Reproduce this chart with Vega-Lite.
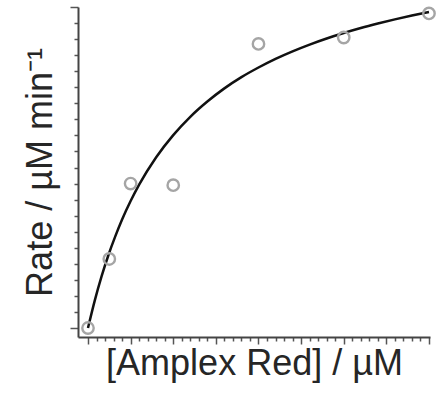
{
  "$schema": "https://vega.github.io/schema/vega-lite/v6.json",
  "width": 352,
  "height": 330,
  "autosize": {"type": "none"},
  "padding": {"left": 78, "top": 7, "right": 14, "bottom": 61},
  "background": "white",
  "config": {"view": {"stroke": null}},
  "datasets": {
    "points": [
      {"conc": 0, "rate": 0},
      {"conc": 6.25, "rate": 4.3},
      {"conc": 12.5, "rate": 9.0},
      {"conc": 25, "rate": 8.9},
      {"conc": 50, "rate": 17.7},
      {"conc": 75, "rate": 18.1},
      {"conc": 100, "rate": 19.6}
    ],
    "fit": [
      {"conc": 0, "rate": 0},
      {"conc": 2, "rate": 1.72},
      {"conc": 4, "rate": 3.23},
      {"conc": 6, "rate": 4.55},
      {"conc": 8, "rate": 5.71},
      {"conc": 10, "rate": 6.76},
      {"conc": 12.5, "rate": 7.91},
      {"conc": 15, "rate": 8.93},
      {"conc": 20, "rate": 10.64},
      {"conc": 25, "rate": 12.02},
      {"conc": 30, "rate": 13.16},
      {"conc": 35, "rate": 14.11},
      {"conc": 40, "rate": 14.93},
      {"conc": 45, "rate": 15.63},
      {"conc": 50, "rate": 16.23},
      {"conc": 55, "rate": 16.77},
      {"conc": 60, "rate": 17.24},
      {"conc": 65, "rate": 17.66},
      {"conc": 70, "rate": 18.04},
      {"conc": 75, "rate": 18.38},
      {"conc": 80, "rate": 18.69},
      {"conc": 85, "rate": 18.97},
      {"conc": 90, "rate": 19.23},
      {"conc": 95, "rate": 19.47},
      {"conc": 100, "rate": 19.69}
    ]
  },
  "encoding": {
    "x": {
      "field": "conc",
      "type": "quantitative",
      "scale": {"domain": [-2.93, 100.3], "nice": false, "zero": false},
      "axis": {
        "title": "[Amplex Red] / µM",
        "titleFont": "Liberation Sans",
        "titleFontSize": 36,
        "titleFontWeight": "normal",
        "titleColor": "#262626",
        "titlePadding": 2,
        "labels": false,
        "grid": false,
        "values": [0,2.5,5,7.5,10,12.5,15,17.5,20,22.5,25,27.5,30,32.5,35,37.5,40,42.5,45,47.5,50,52.5,55,57.5,60,62.5,65,67.5,70,72.5,75,77.5,80,82.5,85,87.5,90,92.5,95,97.5,100],
        "tickSize": {"condition": {"test": "datum.value % 12.5 === 0", "value": 7}, "value": 4},
        "tickColor": "#555",
        "tickWidth": 1.5,
        "domainColor": "#444",
        "domainWidth": 2
      }
    },
    "y": {
      "field": "rate",
      "type": "quantitative",
      "scale": {"domain": [-0.56, 20], "nice": false, "zero": false},
      "axis": {
        "title": "Rate / µM min⁻¹",
        "titleFont": "Liberation Sans",
        "titleFontSize": 36,
        "titleFontWeight": "normal",
        "titleColor": "#262626",
        "titlePadding": 10,
        "labels": false,
        "grid": false,
        "values": [0,1,2,3,4,5,6,7,8,9,10,11,12,13,14,15,16,17,18,19,20],
        "tickSize": {"condition": {"test": "datum.value === 0 || datum.value === 20", "value": 8}, "value": 4},
        "tickColor": "#555",
        "tickWidth": 1.5,
        "domainColor": "#444",
        "domainWidth": 2
      }
    }
  },
  "layer": [
    {
      "data": {"name": "fit"},
      "mark": {"type": "line", "color": "#111", "strokeWidth": 2.5, "interpolate": "monotone"}
    },
    {
      "data": {"name": "points"},
      "mark": {"type": "point", "shape": "circle", "filled": false, "stroke": "#a5a5a5", "strokeWidth": 2.4, "size": 130, "opacity": 1}
    }
  ]
}
